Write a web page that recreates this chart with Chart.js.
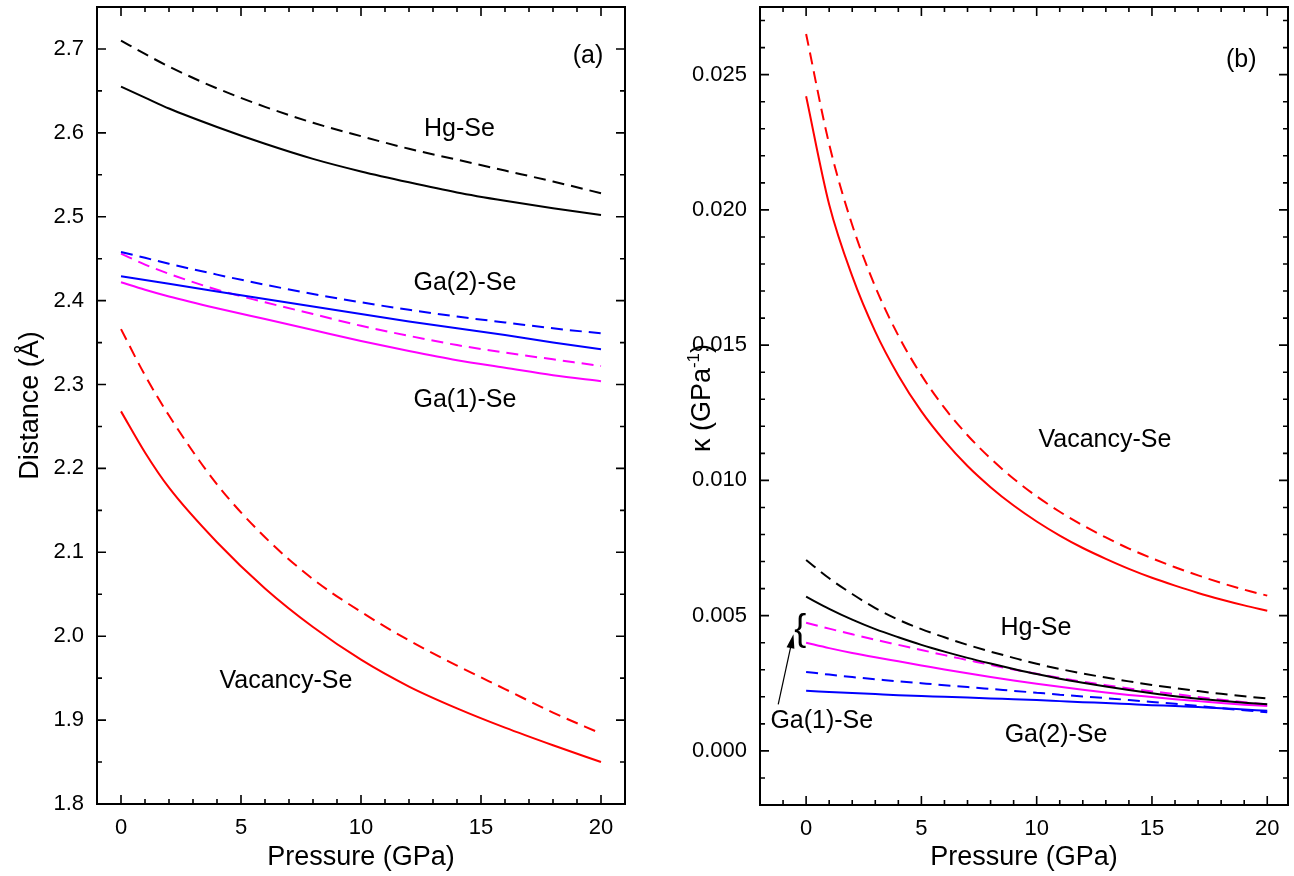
<!DOCTYPE html>
<html>
<head>
<meta charset="utf-8">
<script src="https://cdn.jsdelivr.net/npm/chart.js@4.4.0/dist/chart.umd.min.js"></script>
<style>
  html, body { margin: 0; padding: 0; background: #fff; }
  #wrap { position: relative; width: 1294px; height: 876px; }
  #wrap canvas { position: absolute; top: 0; }
</style>
</head>
<body>
<div id="wrap">
  <canvas id="distChart" width="640" height="876" style="left:0"></canvas>
  <canvas id="kappaChart" width="654" height="876" style="left:640px"></canvas>
</div>
<script>
// ---- panel (a): bond distances (Å) vs pressure
const pressureA = [0, 1, 2, 4, 6, 8, 10, 12, 14, 16, 18, 20]
const hgSeSolidA  = [2.655, 2.642, 2.629, 2.607, 2.587, 2.569, 2.554, 2.541, 2.529, 2.519, 2.510, 2.502]
const hgSeDashA   = [2.710, 2.694, 2.679, 2.653, 2.631, 2.612, 2.596, 2.581, 2.568, 2.555, 2.542, 2.528]
const ga2SolidA   = [2.429, 2.4245, 2.420, 2.411, 2.402, 2.393, 2.384, 2.375, 2.367, 2.359, 2.350, 2.342]
const ga2DashA    = [2.458, 2.451, 2.444, 2.431, 2.419, 2.408, 2.398, 2.389, 2.381, 2.374, 2.367, 2.361]
const ga1SolidA   = [2.422, 2.413, 2.405, 2.391, 2.378, 2.365, 2.352, 2.340, 2.329, 2.320, 2.311, 2.304]
const ga1DashA    = [2.456, 2.443, 2.432, 2.413, 2.398, 2.384, 2.370, 2.358, 2.347, 2.338, 2.330, 2.322]
const vacSolidA   = [2.268, 2.219, 2.177, 2.112, 2.057, 2.011, 1.972, 1.940, 1.914, 1.891, 1.870, 1.850]
const vacDashA    = [2.366, 2.311, 2.263, 2.181, 2.118, 2.068, 2.029, 1.995, 1.965, 1.937, 1.909, 1.884]

// ---- panel (b): compressibility κ (GPa^-1) vs pressure
const pressureB = [0, 1, 2, 3, 4, 5, 6, 7, 8, 9, 10, 11, 12, 13, 14, 15, 16, 17, 18, 19, 20]
const vacSolidB  = [0.02420, 0.02020, 0.01755, 0.01550, 0.01388, 0.01255, 0.01146, 0.01053, 0.00975, 0.00907, 0.00848, 0.00796, 0.00750, 0.00710, 0.00673, 0.00640, 0.00611, 0.00584, 0.00560, 0.00538, 0.00518]
const vacDashB   = [0.02650, 0.02243, 0.01944, 0.01716, 0.01535, 0.01389, 0.01268, 0.01167, 0.01081, 0.01006, 0.00941, 0.00884, 0.00834, 0.00789, 0.00748, 0.00712, 0.00679, 0.00649, 0.00621, 0.00596, 0.00574]
const hgSeSolidB = [0.00570, 0.00525, 0.00485, 0.00450, 0.00420, 0.00392, 0.00367, 0.00344, 0.00323, 0.00303, 0.00284, 0.00267, 0.00252, 0.00238, 0.00225, 0.00213, 0.00202, 0.00193, 0.00185, 0.00178, 0.00172]
const hgSeDashB  = [0.00706, 0.00638, 0.00580, 0.00528, 0.00485, 0.00450, 0.00420, 0.00392, 0.00367, 0.00344, 0.00322, 0.00303, 0.00286, 0.00271, 0.00257, 0.00244, 0.00232, 0.00221, 0.00211, 0.00202, 0.00194]
const ga1SolidB  = [0.00400, 0.00380, 0.00362, 0.00346, 0.00331, 0.00316, 0.00301, 0.00287, 0.00273, 0.00260, 0.00248, 0.00237, 0.00226, 0.00216, 0.00207, 0.00199, 0.00191, 0.00184, 0.00177, 0.00171, 0.00166]
const ga1DashB   = [0.00474, 0.00452, 0.00431, 0.00411, 0.00392, 0.00373, 0.00354, 0.00336, 0.00318, 0.00301, 0.00285, 0.00270, 0.00256, 0.00243, 0.00231, 0.00220, 0.00210, 0.00199, 0.00189, 0.00180, 0.00172]
const ga2SolidB  = [0.00222, 0.00218, 0.00214, 0.00210, 0.00206, 0.00203, 0.00200, 0.00197, 0.00194, 0.00191, 0.00188, 0.00184, 0.00180, 0.00177, 0.00173, 0.00169, 0.00166, 0.00162, 0.00158, 0.00153, 0.00148]
const ga2DashB   = [0.00292, 0.00282, 0.00273, 0.00265, 0.00257, 0.00250, 0.00243, 0.00236, 0.00229, 0.00222, 0.00215, 0.00208, 0.00201, 0.00195, 0.00188, 0.00181, 0.00174, 0.00166, 0.00158, 0.00150, 0.00143]

// axis ticks
const pressureTicks = [0, 5, 10, 15, 20]
const distTicks = [1.8, 1.9, 2.0, 2.1, 2.2, 2.3, 2.4, 2.5, 2.6, 2.7]
const kappaTicks = [0.000, 0.005, 0.010, 0.015, 0.020, 0.025]

const FONT = '"Liberation Sans", Arial, Helvetica, sans-serif'

function series (xs, ys, color, dashed) {
  return {
    data: xs.map((x, i) => ({ x, y: ys[i] })),
    borderColor: color,
    borderWidth: 2,
    borderDash: dashed ? [12, 7] : [],
    pointRadius: 0,
    cubicInterpolationMode: 'monotone',
    fill: false
  }
}

// frame with inward major/minor ticks on all four sides, plus text annotations
const framePlugin = {
  id: 'frame',
  afterDatasetsDraw (chart, args, o) {
    const { ctx, chartArea: a, scales: { x, y } } = chart
    ctx.save()
    ctx.strokeStyle = '#000'
    ctx.lineWidth = 2
    ctx.strokeRect(a.left, a.top, a.right - a.left, a.bottom - a.top)
    ctx.lineWidth = 1.6
    const eps = 1e-9
    const isMajor = (v, list) => list.some(t => Math.abs(t - v) < eps)
    ctx.beginPath()
    for (let k = Math.ceil(x.min / o.xMinor); k * o.xMinor <= x.max + eps; k++) {
      const vv = k * o.xMinor
      const px = x.getPixelForValue(vv)
      if (px <= a.left + 1 || px >= a.right - 1) continue
      const len = isMajor(vv, pressureTicks) ? 9 : 5
      ctx.moveTo(px, a.bottom); ctx.lineTo(px, a.bottom - len)
      ctx.moveTo(px, a.top); ctx.lineTo(px, a.top + len)
    }
    for (let k = Math.ceil(y.min / o.yMinor - eps); k * o.yMinor <= y.max + eps; k++) {
      const vv = +(k * o.yMinor).toFixed(6)
      const py = y.getPixelForValue(vv)
      if (py <= a.top + 1) continue
      const len = isMajor(vv, o.yMajor) ? 9 : 5
      ctx.moveTo(a.left, py); ctx.lineTo(a.left + len, py)
      ctx.moveTo(a.right, py); ctx.lineTo(a.right - len, py)
    }
    ctx.stroke()

    ctx.fillStyle = '#000'
    ctx.font = '25px ' + FONT
    ctx.textAlign = 'center'
    ctx.textBaseline = 'middle'
    o.labels.forEach(l => ctx.fillText(l.text, x.getPixelForValue(l.x), y.getPixelForValue(l.y)))

    if (o.brace) {
      const bx = x.getPixelForValue(o.brace.x), by = y.getPixelForValue(o.brace.y)
      ctx.font = '36px ' + FONT
      ctx.fillText('{', bx, by)
    }
    if (o.arrow) {
      const x0 = x.getPixelForValue(o.arrow.x0), y0 = y.getPixelForValue(o.arrow.y0)
      const x1 = x.getPixelForValue(o.arrow.x1), y1 = y.getPixelForValue(o.arrow.y1)
      const ang = Math.atan2(y1 - y0, x1 - x0)
      ctx.lineWidth = 1.2
      ctx.beginPath(); ctx.moveTo(x0, y0); ctx.lineTo(x1 - 10 * Math.cos(ang), y1 - 10 * Math.sin(ang)); ctx.stroke()
      ctx.beginPath()
      ctx.moveTo(x1, y1)
      ctx.lineTo(x1 - 14 * Math.cos(ang) + 4 * Math.sin(ang), y1 - 14 * Math.sin(ang) - 4 * Math.cos(ang))
      ctx.lineTo(x1 - 14 * Math.cos(ang) - 4 * Math.sin(ang), y1 - 14 * Math.sin(ang) + 4 * Math.cos(ang))
      ctx.closePath(); ctx.fill()
    }
    if (o.yTitle) {
      // rotated y title with superscript
      const t = o.yTitle
      ctx.translate(t.cx, t.cy)
      ctx.rotate(-Math.PI / 2)
      ctx.textAlign = 'left'
      ctx.textBaseline = 'alphabetic'
      ctx.font = '27px ' + FONT
      const w1 = ctx.measureText(t.main).width
      const w3 = ctx.measureText(t.close).width
      ctx.font = '17px ' + FONT
      const w2 = ctx.measureText(t.sup).width
      let cx = -(w1 + w2 + w3) / 2
      const base = 10
      ctx.font = '27px ' + FONT
      ctx.fillText(t.main, cx, base); cx += w1
      ctx.font = '17px ' + FONT
      ctx.fillText(t.sup, cx, base - 11); cx += w2
      ctx.font = '27px ' + FONT
      ctx.fillText(t.close, cx, base)
    }
    ctx.restore()
  }
}

const tickFont = { family: FONT, size: 22 }
const titleFont = { family: FONT, size: 27 }

function baseOptions (cfg) {
  return {
    responsive: false,
    animation: false,
    layout: { padding: cfg.padding },
    plugins: {
      legend: { display: false },
      tooltip: { enabled: false },
      frame: cfg.frame
    },
    scales: {
      x: {
        type: 'linear', min: cfg.xMin, max: cfg.xMax,
        grid: { display: false, drawTicks: false }, border: { display: false },
        afterBuildTicks: s => { s.ticks = pressureTicks.map(v => ({ value: v })) },
        afterFit: s => { s.height = cfg.xHeight; s.paddingLeft = 0; s.paddingRight = 0 },
        ticks: { font: tickFont, color: '#000', padding: 11, maxRotation: 0, autoSkip: false, callback: v => String(v) },
        title: { display: true, text: 'Pressure (GPa)', font: titleFont, color: '#000', padding: { top: 0, bottom: 2 } }
      },
      y: {
        type: 'linear', min: cfg.yMin, max: cfg.yMax,
        grid: { display: false, drawTicks: false }, border: { display: false },
        afterBuildTicks: s => { s.ticks = cfg.yTicks.map(v => ({ value: v })) },
        afterFit: s => { s.width = cfg.yWidth; s.paddingTop = 0; s.paddingBottom = 0 },
        ticks: { font: tickFont, color: '#000', padding: 13, autoSkip: false, callback: cfg.yFormat },
        title: cfg.yTitle
      }
    }
  }
}

new Chart(document.getElementById('distChart'), {
  type: 'line',
  data: {
    datasets: [
      series(pressureA, hgSeDashA, '#000000', true),
      series(pressureA, hgSeSolidA, '#000000', false),
      series(pressureA, ga2DashA, '#0000ff', true),
      series(pressureA, ga2SolidA, '#0000ff', false),
      series(pressureA, ga1DashA, '#ff00ff', true),
      series(pressureA, ga1SolidA, '#ff00ff', false),
      series(pressureA, vacDashA, '#ff0000', true),
      series(pressureA, vacSolidA, '#ff0000', false)
    ]
  },
  options: baseOptions({
    padding: { top: 7, right: 15, left: 0, bottom: 0 },
    xMin: -1, xMax: 21, xHeight: 72,
    yMin: 1.8, yMax: 2.75, yWidth: 97, yTicks: distTicks,
    yFormat: v => v.toFixed(1),
    yTitle: { display: true, text: 'Distance (Å)', font: titleFont, color: '#000', padding: { top: 14, bottom: 0 } },
    frame: {
      xMinor: 1, yMinor: 0.05, yMajor: distTicks,
      labels: [
        { text: '(a)', x: 19.46, y: 2.692 },
        { text: 'Hg-Se', x: 14.1, y: 2.604 },
        { text: 'Ga(2)-Se', x: 14.33, y: 2.421 },
        { text: 'Ga(1)-Se', x: 14.33, y: 2.282 },
        { text: 'Vacancy-Se', x: 6.87, y: 1.946 }
      ]
    }
  }),
  plugins: [framePlugin]
})

new Chart(document.getElementById('kappaChart'), {
  type: 'line',
  data: {
    datasets: [
      series(pressureB, vacDashB, '#ff0000', true),
      series(pressureB, vacSolidB, '#ff0000', false),
      series(pressureB, hgSeDashB, '#000000', true),
      series(pressureB, hgSeSolidB, '#000000', false),
      series(pressureB, ga1DashB, '#ff00ff', true),
      series(pressureB, ga1SolidB, '#ff00ff', false),
      series(pressureB, ga2DashB, '#0000ff', true),
      series(pressureB, ga2SolidB, '#0000ff', false)
    ]
  },
  options: baseOptions({
    padding: { top: 7, right: 6, left: 0, bottom: 0 },
    xMin: -2, xMax: 20.9, xHeight: 71,
    yMin: -0.002, yMax: 0.0275, yWidth: 120, yTicks: kappaTicks,
    yFormat: v => v.toFixed(3),
    yTitle: { display: false },
    frame: {
      xMinor: 1, yMinor: 0.001, yMajor: kappaTicks,
      labels: [
        { text: '(b)', x: 18.87, y: 0.02555 },
        { text: 'Vacancy-Se', x: 12.96, y: 0.01148 },
        { text: 'Hg-Se', x: 9.97, y: 0.00453 },
        { text: 'Ga(2)-Se', x: 10.84, y: 0.00058 },
        { text: 'Ga(1)-Se', x: 0.68, y: 0.0011 }
      ],
      brace: { x: -0.25, y: 0.00445 },
      arrow: { x0: -1.21, y0: 0.00172, x1: -0.55, y1: 0.00431 },
      yTitle: { cx: 60, cy: 398, main: 'κ (GPa', sup: '-1', close: ')' }
    }
  }),
  plugins: [framePlugin]
})
</script>
</body>
</html>
